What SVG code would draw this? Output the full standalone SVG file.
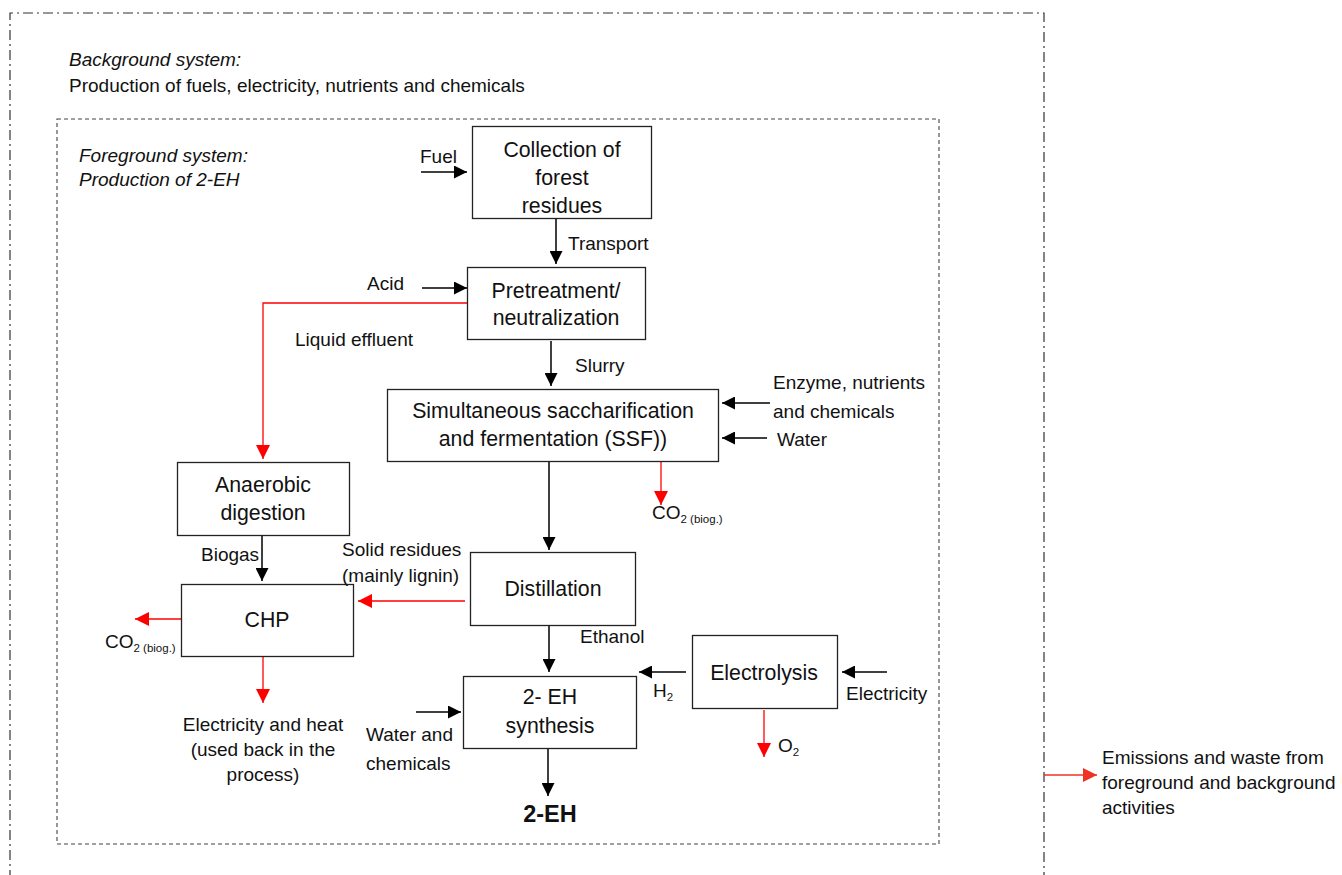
<svg xmlns="http://www.w3.org/2000/svg" width="1342" height="875" viewBox="0 0 1342 875">
<defs>
<marker id="ab" viewBox="0 0 10 10" refX="10" refY="5" markerWidth="13" markerHeight="13" markerUnits="userSpaceOnUse" orient="auto"><path d="M0,0 L10,5 L0,10 z" fill="#000"/></marker>
<marker id="ar" viewBox="0 0 10 10" refX="10" refY="5" markerWidth="14" markerHeight="14" markerUnits="userSpaceOnUse" orient="auto"><path d="M0,0 L10,5 L0,10 z" fill="#ff0000"/></marker>
<marker id="ao" viewBox="0 0 10 10" refX="10" refY="5" markerWidth="14" markerHeight="14" markerUnits="userSpaceOnUse" orient="auto"><path d="M0,0 L10,5 L0,10 z" fill="#ee3322"/></marker>
</defs>
<style>
text{font-family:"Liberation Sans",Arial,sans-serif;fill:#111}
.box{fill:#fff;stroke:#222;stroke-width:1.3}
.bt{font-size:21.3px;text-anchor:middle}
.lb{font-size:19px}
.it{font-style:italic}
.sub{font-size:11.5px}
.blk{stroke:#000;stroke-width:1.5;fill:none;marker-end:url(#ab)}
.red{stroke:#ff0000;stroke-width:1.3;fill:none;marker-end:url(#ar)}
</style>
<rect width="1342" height="875" fill="#fff"/>
<g id="frames">
<path d="M10,880 L10,13 L1044,13 L1044,880" fill="none" stroke="#333" stroke-width="1.2" stroke-dasharray="10,4,2,4"/>
<rect x="57" y="119" width="882" height="725" fill="none" stroke="#444" stroke-width="1.1" stroke-dasharray="4,3"/>
<text class="lb it" x="69" y="66">Background system:</text>
<text class="lb" x="69" y="92">Production of fuels, electricity, nutrients and chemicals</text>
<text class="lb it" x="79" y="162">Foreground system:</text>
<text class="lb it" x="79" y="186">Production of 2-EH</text>
</g>
<g id="connectors">
<line class="blk" x1="421" y1="172" x2="467" y2="172"/>
<line class="blk" x1="556" y1="219" x2="556" y2="264"/>
<line class="blk" x1="422" y1="288" x2="467" y2="288"/>
<path d="M467,303 L263,303 L263,459" class="red"/>
<line class="blk" x1="551" y1="341" x2="551" y2="386"/>
<line class="blk" x1="770" y1="403" x2="722" y2="403"/>
<line class="blk" x1="767" y1="438" x2="722" y2="438"/>
<line class="red" x1="661" y1="462" x2="661" y2="505"/>
<line class="blk" x1="549" y1="462" x2="549" y2="550"/>
<line class="blk" x1="262" y1="536" x2="262" y2="581"/>
<line class="red" x1="465" y1="601" x2="358" y2="601"/>
<line class="red" x1="181" y1="619" x2="135" y2="619"/>
<line class="red" x1="263" y1="657" x2="263" y2="703"/>
<line class="blk" x1="549" y1="626" x2="549" y2="672"/>
<line class="blk" x1="686" y1="672" x2="639" y2="672"/>
<line class="blk" x1="887" y1="672" x2="842" y2="672"/>
<line class="red" x1="764" y1="710" x2="764" y2="757"/>
<line class="blk" x1="416" y1="712" x2="461" y2="712"/>
<line class="blk" x1="548" y1="749" x2="548" y2="796"/>
<line x1="1044" y1="775" x2="1097" y2="775" stroke="#ee3322" stroke-width="1.3" marker-end="url(#ao)"/>
</g>
<g id="collection">
<rect class="box" x="472.5" y="126.5" width="179" height="92"/>
<text class="bt" x="562" y="157">Collection of</text>
<text class="bt" x="562" y="185">forest</text>
<text class="bt" x="562" y="213">residues</text>
</g>
<g id="pretreatment">
<rect class="box" x="467.5" y="267.5" width="178" height="72"/>
<text class="bt" x="556" y="298">Pretreatment/</text>
<text class="bt" x="556" y="325">neutralization</text>
</g>
<g id="ssf">
<rect class="box" x="387.5" y="389.5" width="331" height="72"/>
<text class="bt" x="553" y="418">Simultaneous saccharification</text>
<text class="bt" x="553" y="446">and fermentation (SSF))</text>
</g>
<g id="anaerobic">
<rect class="box" x="177.5" y="462.5" width="172" height="73"/>
<text class="bt" x="263" y="492">Anaerobic</text>
<text class="bt" x="263" y="520">digestion</text>
</g>
<g id="chp">
<rect class="box" x="181.5" y="584.5" width="172" height="72"/>
<text class="bt" x="267" y="627">CHP</text>
</g>
<g id="distillation">
<rect class="box" x="470.5" y="552.5" width="165" height="73"/>
<text class="bt" x="553" y="596">Distillation</text>
</g>
<g id="synthesis">
<rect class="box" x="463.5" y="676.5" width="173" height="72"/>
<text class="bt" x="550" y="704">2- EH</text>
<text class="bt" x="550" y="733">synthesis</text>
</g>
<g id="electrolysis">
<rect class="box" x="692.5" y="635.5" width="145" height="73"/>
<text class="bt" x="764" y="680">Electrolysis</text>
</g>
<g id="labels">
<text class="lb" x="420" y="163">Fuel</text>
<text class="lb" x="568" y="250">Transport</text>
<text class="lb" x="367" y="290">Acid</text>
<text class="lb" x="295" y="346">Liquid effluent</text>
<text class="lb" x="575" y="372">Slurry</text>
<text class="lb" x="773" y="389">Enzyme, nutrients</text>
<text class="lb" x="773" y="418">and chemicals</text>
<text class="lb" x="777" y="446">Water</text>
<text class="lb" x="652" y="519">CO<tspan class="sub" dy="4">2 (biog.)</tspan></text>
<text class="lb" x="201" y="561">Biogas</text>
<text class="lb" x="342" y="556">Solid residues</text>
<text class="lb" x="342" y="582">(mainly lignin)</text>
<text class="lb" x="105" y="648">CO<tspan class="sub" dy="4">2 (biog.)</tspan></text>
<text class="lb" x="580" y="643">Ethanol</text>
<text class="lb" x="653" y="697">H<tspan class="sub" dy="4">2</tspan></text>
<text class="lb" x="846" y="700">Electricity</text>
<text class="lb" x="778" y="752">O<tspan class="sub" dy="4">2</tspan></text>
<text class="lb" x="366" y="741">Water and</text>
<text class="lb" x="366" y="770">chemicals</text>
<text class="lb" x="263" y="731" text-anchor="middle">Electricity and heat</text>
<text class="lb" x="263" y="756" text-anchor="middle">(used back in the</text>
<text class="lb" x="263" y="781" text-anchor="middle">process)</text>
<text x="550" y="822" text-anchor="middle" font-size="23.5" font-weight="bold">2-EH</text>
<text class="lb" x="1102" y="764">Emissions and waste from</text>
<text class="lb" x="1102" y="789">foreground and background</text>
<text class="lb" x="1102" y="814">activities</text>
</g>
</svg>
